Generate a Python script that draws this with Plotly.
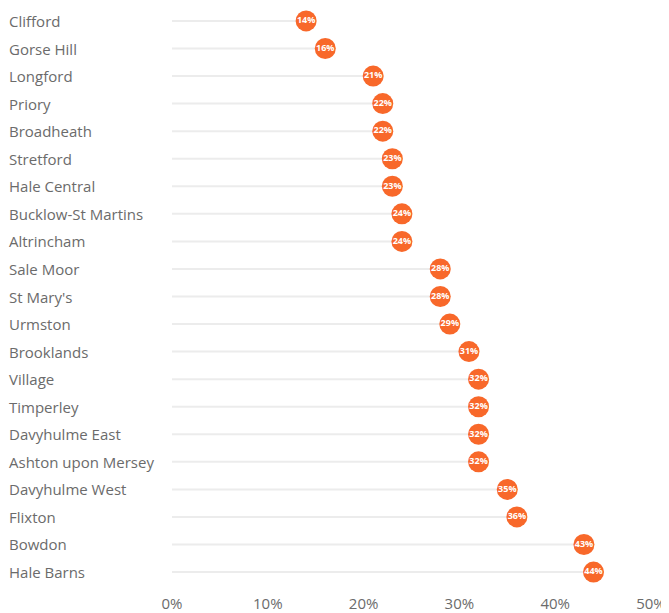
import plotly.graph_objects as go

wards = ["Clifford", "Gorse Hill", "Longford", "Priory", "Broadheath", "Stretford",
         "Hale Central", "Bucklow-St Martins", "Altrincham", "Sale Moor", "St Mary's",
         "Urmston", "Brooklands", "Village", "Timperley", "Davyhulme East",
         "Ashton upon Mersey", "Davyhulme West", "Flixton", "Bowdon", "Hale Barns"]
values = [14, 16, 21, 22, 22, 23, 23, 24, 24, 28, 28, 29, 31, 32, 32, 32, 32, 35, 36, 43, 44]
tick_vals = [0, 10, 20, 30, 40, 50]
tick_text = ["0%", "10%", "20%", "30%", "40%", "50%"]

orange = "#f8682a"
grey_text = "#6b6b6b"

lx, ly = [], []
for w, v in zip(wards, values):
    lx += [0, v, None]
    ly += [w, w, None]

fig = go.Figure()
fig.add_trace(go.Scatter(x=lx, y=ly, mode="lines",
                         line=dict(color="#ececec", width=2), hoverinfo="skip"))
fig.add_trace(go.Scatter(x=values, y=wards, mode="markers+text",
                         marker=dict(color=orange, size=21, symbol="circle", line=dict(width=0)),
                         text=[f"{v}%" for v in values], textposition="middle center",
                         textfont=dict(color="white", size=9, family="Open Sans", weight="bold")))

for w in wards:
    fig.add_annotation(x=0, xref="paper", y=w, yref="y", text=w, showarrow=False,
                       xanchor="left", xshift=-165,
                       font=dict(size=15, color=grey_text, family="Open Sans"))

fig.update_layout(
    width=669, height=613,
    margin=dict(l=164, r=26, t=0, b=36, autoexpand=False),
    plot_bgcolor="white", paper_bgcolor="white",
    showlegend=False,
    font=dict(family="Open Sans", color=grey_text),
    xaxis=dict(range=[0, 50], tickvals=tick_vals, ticktext=tick_text, showgrid=False,
               zeroline=False, showline=False, tickfont=dict(size=15, color=grey_text),
               ticklabelstandoff=8, automargin=False),
    yaxis=dict(categoryorder="array", categoryarray=wards, autorange=False,
               range=[20.47, -0.47], showticklabels=False, showgrid=False, zeroline=False,
               automargin=False),
)
fig.write_html("out.html")
